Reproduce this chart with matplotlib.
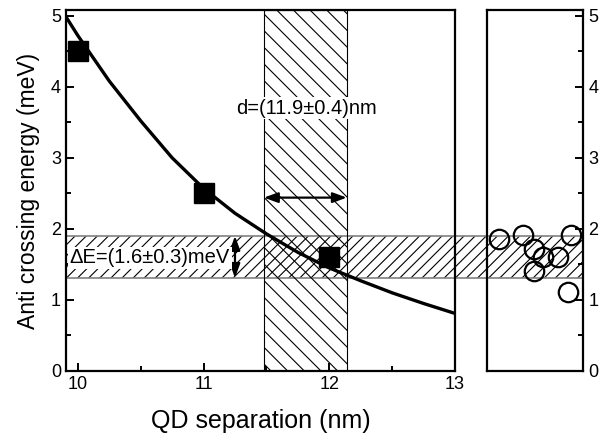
import matplotlib.pyplot as plt
from matplotlib.patches import Rectangle
from matplotlib.transforms import blended_transform_factory
from matplotlib.ticker import MultipleLocator

plt.rcParams['font.family'] = ['Liberation Sans', 'DejaVu Sans']
plt.rcParams['hatch.linewidth'] = 0.8

# measured anti crossing energies
sep_nm = [10, 11, 12]
energy_mev = [4.5, 2.5, 1.6]

# fitted curve
curve_x = [9.9, 10.0, 10.25, 10.5, 10.75, 11.0, 11.25, 11.5, 11.75, 12.0, 12.25, 12.5, 12.75, 13.0]
curve_y = [5.0, 4.72, 4.08, 3.52, 3.0, 2.57, 2.22, 1.93, 1.67, 1.45, 1.27, 1.1, 0.95, 0.81]

# scatter of single values (right panel)
scatter_x = [0.12, 0.37, 0.49, 0.58, 0.74, 0.49, 0.87, 0.84]
scatter_y = [1.86, 1.92, 1.72, 1.61, 1.61, 1.41, 1.92, 1.11]

d_band = (11.48, 12.14)
e_band = (1.31, 1.90)

fig = plt.figure(figsize=(6.02, 4.4), dpi=100)
ax = fig.add_axes([0.1096, 0.157, 0.646, 0.820])
ax2 = fig.add_axes([0.809, 0.157, 0.160, 0.820])
for a in (ax, ax2):
    a.set_facecolor('none')
    for s in a.spines.values():
        s.set_linewidth(1.6)

# horizontal band across both panels (black hatch, gray border)
tr = blended_transform_factory(fig.transFigure, ax.transData)
x0, x1 = 0.1096, 0.969
fig.patches.append(Rectangle((x0, e_band[0]), x1 - x0, e_band[1] - e_band[0],
                             transform=tr, facecolor='none', edgecolor='black', lw=0,
                             hatch='///', zorder=-2))
fig.patches.append(Rectangle((x0, e_band[0]), x1 - x0, e_band[1] - e_band[0],
                             transform=tr, facecolor='none', edgecolor='0.5', lw=1.2,
                             zorder=-1))

ax.axvspan(d_band[0], d_band[1], facecolor='none', edgecolor='black', lw=0.8,
           hatch='\\\\', zorder=0)

ax.plot(curve_x, curve_y, color='black', lw=2.4, zorder=3)
ax.plot(sep_nm, energy_mev, 's', color='black', ms=14, zorder=4)

arrow = dict(arrowstyle='<|-|>,head_length=0.6,head_width=0.22', color='black', lw=1.6,
             mutation_scale=14, shrinkA=0, shrinkB=0)
ax.annotate('', xy=(d_band[0], 2.44), xytext=(d_band[1], 2.44), arrowprops=arrow)
ax.annotate('', xy=(11.25, e_band[0]), xytext=(11.25, e_band[1]), arrowprops=arrow)
box = dict(boxstyle='square,pad=0.08', facecolor='white', edgecolor='none')
ax.text(11.82, 3.70, 'd=(11.9\u00b10.4)nm', ha='center', va='center', fontsize=14.5,
        bbox=box, zorder=5)
ax.text(11.21, 1.59, '\u0394E=(1.6\u00b10.3)meV', ha='right', va='center', fontsize=14.5,
        bbox=box, zorder=5)

ax.set_xlim(9.905, 13.0)
ax.set_ylim(0, 5.08)
ax.xaxis.set_major_locator(MultipleLocator(1))
ax.xaxis.set_minor_locator(MultipleLocator(0.5))
ax.yaxis.set_major_locator(MultipleLocator(1))
ax.yaxis.set_minor_locator(MultipleLocator(0.5))
ax.tick_params(which='both', direction='in', top=False, right=False, labelsize=13, width=1.4)
ax.tick_params(which='major', length=6)
ax.tick_params(which='minor', length=3.5)
ax.set_xlabel('QD separation (nm)', fontsize=18, labelpad=12)
ax.set_ylabel('Anti crossing energy (meV)', fontsize=16.5, labelpad=8)

ax2.plot(scatter_x, scatter_y, 'o', mfc='none', mec='black', mew=1.6, ms=14, zorder=4)
ax2.set_xlim(0, 1)
ax2.set_ylim(0, 5.08)
ax2.set_xticks([])
ax2.yaxis.set_major_locator(MultipleLocator(1))
ax2.yaxis.set_minor_locator(MultipleLocator(0.5))
ax2.yaxis.tick_right()
ax2.tick_params(which='both', direction='in', left=False, labelsize=13, width=1.4)
ax2.tick_params(which='major', length=6)
ax2.tick_params(which='minor', length=3.5)

fig.savefig('out.png', dpi=100)
